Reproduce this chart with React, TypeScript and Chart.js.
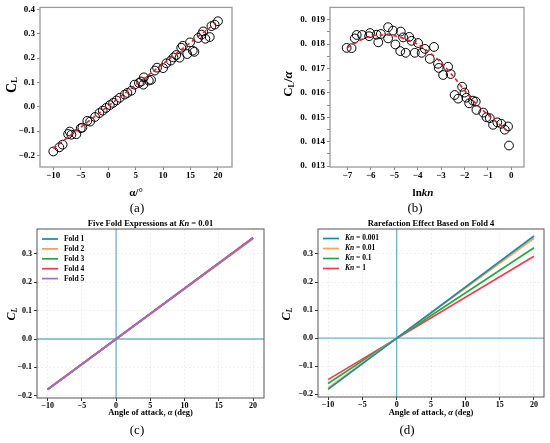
import { useEffect, useRef } from "react";
import { Chart, registerables } from "chart.js";
Chart.register(...registerables);

const SERIF = '"Liberation Serif", "Times New Roman", serif';

// ---- panel (a) ----
const aAlpha = [-10, -8.9, -8.3, -7.3, -7.0, -6.7, -5.8, -5.0, -4.7, -3.8, -3.3, -2.4, -1.6, -1.0, -0.4, 0.3, 0.9, 1.5, 2.1, 3.0, 3.5, 4.2, 4.8, 5.6, 6.0, 6.4, 6.5, 7.4, 7.8, 8.5, 8.9, 10.0, 10.6, 11.4, 11.9, 12.4, 13.0, 13.3, 13.6, 14.4, 14.9, 15.4, 15.7, 16.4, 17.0, 17.3, 17.7, 18.5, 18.8, 19.4, 20.0];
const aCL = [-0.184, -0.167, -0.156, -0.112, -0.102, -0.115, -0.113, -0.088, -0.086, -0.058, -0.061, -0.042, -0.026, -0.016, -0.005, 0.007, 0.016, 0.026, 0.037, 0.05, 0.057, 0.066, 0.091, 0.098, 0.104, 0.091, 0.121, 0.108, 0.111, 0.149, 0.161, 0.159, 0.179, 0.19, 0.203, 0.213, 0.202, 0.243, 0.251, 0.217, 0.265, 0.231, 0.226, 0.283, 0.297, 0.31, 0.28, 0.287, 0.332, 0.338, 0.352];
const aFitAlpha = [-10, 19.6];
const aFitCL = [-0.172, 0.345];
const aXTicks = [-10, -5, 0, 5, 10, 15, 20];
const aYTicks = [-0.2, -0.1, 0, 0.1, 0.2, 0.3, 0.4];

// ---- panel (b) ----
const bLnKn = [-7.03, -6.82, -6.68, -6.6, -6.37, -6.07, -6.03, -5.75, -5.68, -5.57, -5.26, -5.26, -5.05, -4.95, -4.74, -4.72, -4.62, -4.51, -4.36, -4.26, -4.12, -3.98, -3.83, -3.69, -3.48, -3.3, -3.13, -3.1, -2.91, -2.7, -2.59, -2.42, -2.27, -2.1, -2.0, -1.92, -1.8, -1.64, -1.52, -1.49, -1.2, -1.06, -0.92, -0.78, -0.6, -0.43, -0.28, -0.14, -0.1];
const bRatio = [0.01784, 0.01783, 0.01823, 0.01837, 0.01837, 0.01832, 0.01845, 0.01838, 0.01807, 0.01841, 0.01869, 0.01823, 0.01855, 0.01798, 0.01771, 0.01851, 0.01827, 0.01764, 0.01829, 0.01813, 0.01764, 0.01804, 0.01764, 0.0178, 0.01739, 0.01788, 0.01719, 0.01702, 0.01673, 0.01707, 0.01677, 0.01591, 0.01576, 0.01625, 0.01601, 0.0158, 0.01557, 0.01568, 0.01564, 0.0153, 0.01519, 0.015, 0.01496, 0.01469, 0.01479, 0.01473, 0.01449, 0.01462, 0.01384];
const bFitLnKn = [-7, -6.5, -6, -5.5, -5, -4.5, -4, -3.5, -3, -2.5, -2, -1.5, -1, -0.5, -0.2];
const bFitRatio = [0.01785, 0.01813, 0.01832, 0.01837, 0.01834, 0.01819, 0.01799, 0.01766, 0.01725, 0.0167, 0.0161, 0.01555, 0.0151, 0.0147, 0.01447];
const bXTicks = [-7, -6, -5, -4, -3, -2, -1, 0];
const bYTicks = [0.013, 0.0135, 0.014, 0.0145, 0.015, 0.0155, 0.016, 0.0165, 0.017, 0.0175, 0.018, 0.0185, 0.019];
const bYLabelled = [0.013, 0.014, 0.015, 0.016, 0.017, 0.018, 0.019];

// ---- panel (c) ----
const foldLabels = ["Fold 1", "Fold 2", "Fold 3", "Fold 4", "Fold 5"];
const foldAlpha = [-10, 20];
const fold1 = [-0.178, 0.357];
const fold2 = [-0.177, 0.353];
const fold3 = [-0.178, 0.356];
const fold4 = [-0.178, 0.357];
const fold5 = [-0.178, 0.356];
const foldColors = ["#1f82a8", "#ff9a4c", "#25a844", "#f03a4e", "#a56cc6"];

// ---- panel (d) ----
const knLabels = ["0.001", "0.01", "0.1", "1"];
const knAlpha = [-10, 20];
const kn0001 = [-0.183, 0.364];
const kn001 = [-0.178, 0.356];
const kn01 = [-0.162, 0.322];
const kn1 = [-0.148, 0.292];
const knColors = ["#1f8aa8", "#ffa25a", "#25a844", "#f03a4e"];

const cdXTicks = [-10, -5, 0, 5, 10, 15, 20];
const cdYTicks = [-0.2, -0.1, 0, 0.1, 0.2, 0.3];

const W = 550, H = 443, YW = 30, XH = 20;

const pts = (xs: number[], ys: number[]) => xs.map((x, i) => ({ x, y: ys[i] }));
const minus = (s: string) => s.replace("-", "\u2212");
const fmtInt = (v: number) => minus(String(Math.round(v)));
const fmt1 = (v: number) => minus((Math.abs(v) < 1e-9 ? 0 : v).toFixed(1));
const fmtB = (v: number) =>
  bYLabelled.some((t) => Math.abs(t - v) < 1e-7) ? "0.\u2002" + String(Math.round(v * 1000)).padStart(3, "0") : "";

type Run = { t: string; f: string; dy?: number };
function drawRich(ctx: CanvasRenderingContext2D, runs: Run[], x: number, y: number, rot = 0, align = "center") {
  ctx.save();
  ctx.translate(x, y);
  ctx.rotate(rot);
  let w = 0;
  runs.forEach((r) => { ctx.font = r.f; w += ctx.measureText(r.t).width; });
  let cx = align === "center" ? -w / 2 : align === "right" ? -w : 0;
  ctx.textBaseline = "middle";
  ctx.textAlign = "left";
  ctx.fillStyle = "#000";
  runs.forEach((r) => { ctx.font = r.f; ctx.fillText(r.t, cx, r.dy || 0); cx += ctx.measureText(r.t).width; });
  ctx.restore();
}
const B = (s: number) => `bold ${s}px ${SERIF}`;
const BI = (s: number) => `italic bold ${s}px ${SERIF}`;

function zeroLines(ctx: CanvasRenderingContext2D, chart: any) {
  const ca = chart.chartArea;
  const x0 = chart.scales.x.getPixelForValue(0);
  const y0 = chart.scales.y.getPixelForValue(0);
  ctx.save();
  ctx.strokeStyle = "#6db3d1";
  ctx.lineWidth = 1.3;
  ctx.beginPath();
  ctx.moveTo(x0, ca.top); ctx.lineTo(x0, ca.bottom);
  ctx.moveTo(ca.left, y0); ctx.lineTo(ca.right, y0);
  ctx.stroke();
  ctx.restore();
}

function legend(ctx: CanvasRenderingContext2D, x: number, y0: number, dy: number, items: { c: string; runs: Run[] }[]) {
  items.forEach((it, i) => {
    const y = y0 + i * dy;
    ctx.save();
    ctx.strokeStyle = it.c;
    ctx.lineWidth = 1.7;
    ctx.beginPath();
    ctx.moveTo(x, y); ctx.lineTo(x + 16, y);
    ctx.stroke();
    ctx.restore();
    drawRich(ctx, it.runs, x + 22, y, 0, "left");
  });
}

type Spec = {
  area: { l: number; r: number; t: number; b: number };
  xr: [number, number];
  yr: [number, number];
  xTicks: number[];
  yTicks: number[];
  xFmt: (v: number) => string;
  yFmt: (v: number) => string;
  datasets: any[];
  framed: boolean;
  tickFont: number;
  before?: (ctx: CanvasRenderingContext2D, chart: any) => void;
  deco: (ctx: CanvasRenderingContext2D, chart: any) => void;
};

function buildConfig(s: Spec): any {
  const scale = (isX: boolean) => ({
    type: "linear",
    min: isX ? s.xr[0] : s.yr[0],
    max: isX ? s.xr[1] : s.yr[1],
    afterBuildTicks: (sc: any) => { sc.ticks = (isX ? s.xTicks : s.yTicks).map((v) => ({ value: v })); },
    afterFit: (sc: any) => { if (isX) sc.height = XH; else sc.width = YW; },
    ticks: {
      callback: (v: any) => (isX ? s.xFmt : s.yFmt)(Number(v)),
      font: { family: SERIF, size: s.tickFont, weight: "bold" },
      color: "#000",
      padding: isX ? 0 : 2,
      autoSkip: false,
      maxRotation: 0,
    },
    grid: {
      display: true,
      drawOnChartArea: !s.framed,
      drawTicks: true,
      tickLength: 3,
      color: "rgba(0,0,0,0.10)",
      lineWidth: 0.6,
      tickColor: s.framed ? "#888" : "#333",
      tickWidth: 1,
    },
    border: { display: false, dash: s.framed ? [] : [2, 2] },
  });
  return {
    type: "scatter",
    data: { datasets: s.datasets },
    options: {
      responsive: false,
      animation: false,
      events: [],
      layout: { padding: { left: s.area.l - YW, right: W - s.area.r, top: s.area.t, bottom: H - s.area.b - XH } },
      plugins: { legend: { display: false }, tooltip: { enabled: false } },
      scales: { x: scale(true), y: scale(false) },
    },
    plugins: [
      {
        id: "deco",
        beforeDatasetsDraw(chart: any) { if (s.before) s.before(chart.ctx, chart); },
        afterDraw(chart: any) {
          const ctx = chart.ctx, ca = chart.chartArea;
          ctx.save();
          ctx.strokeStyle = s.framed ? "#9a9a9a" : "#555";
          ctx.lineWidth = s.framed ? 1.3 : 1;
          ctx.strokeRect(ca.left, ca.top, ca.right - ca.left, ca.bottom - ca.top);
          ctx.restore();
          s.deco(ctx, chart);
        },
      },
    ],
  };
}

const circles = (data: any[]) => ({
  data, showLine: false, pointStyle: "circle", pointRadius: 4.4, borderColor: "#000",
  backgroundColor: "rgba(0,0,0,0)", borderWidth: 1, order: 2,
});
const redFit = (data: any[]) => ({
  data, showLine: true, pointRadius: 0, borderColor: "#e8202a", borderWidth: 1.6,
  borderDash: [4, 3], tension: 0.3, order: 1,
});
const lineDs = (data: any[], color: string, order: number) => ({
  data, showLine: true, pointRadius: 0, borderColor: color, borderWidth: 1.7, tension: 0, order,
});

const specs: Spec[] = [
  {
    area: { l: 40, r: 232, t: 5, b: 167 },
    xr: [-12.42, 22.55], yr: [-0.248, 0.409],
    xTicks: aXTicks, yTicks: aYTicks, xFmt: fmtInt, yFmt: fmt1,
    datasets: [redFit(pts(aFitAlpha, aFitCL)), circles(pts(aAlpha, aCL))],
    framed: true, tickFont: 9,
    deco: (ctx) => {
      drawRich(ctx, [{ t: "C", f: B(14) }, { t: "L", f: B(9), dy: 3 }], 12, 85, -Math.PI / 2);
      drawRich(ctx, [{ t: "α/°", f: B(11) }], 136, 193);
      drawRich(ctx, [{ t: "(a)", f: `13px ${SERIF}` }], 137, 209);
    },
  },
  {
    area: { l: 330, r: 524, t: 7, b: 167 },
    xr: [-7.74, 0.54], yr: [0.01296, 0.0195],
    xTicks: bXTicks, yTicks: bYTicks, xFmt: fmtInt, yFmt: fmtB,
    datasets: [redFit(pts(bFitLnKn, bFitRatio)), circles(pts(bLnKn, bRatio))],
    framed: true, tickFont: 9,
    deco: (ctx) => {
      drawRich(ctx, [{ t: "C", f: B(13) }, { t: "L", f: B(8), dy: 3 }, { t: "/", f: B(13) }, { t: "α", f: BI(13) }], 289, 84, -Math.PI / 2);
      drawRich(ctx, [{ t: "ln", f: B(11) }, { t: "kn", f: BI(11) }], 423, 193);
      drawRich(ctx, [{ t: "(b)", f: `13px ${SERIF}` }], 415, 209);
    },
  },
  {
    area: { l: 37, r: 264, t: 229, b: 398 },
    xr: [-11.55, 21.6], yr: [-0.208, 0.388],
    xTicks: cdXTicks, yTicks: cdYTicks, xFmt: fmtInt, yFmt: fmt1,
    datasets: [
      lineDs(pts(foldAlpha, fold1), foldColors[0], 5),
      lineDs(pts(foldAlpha, fold2), foldColors[1], 4),
      lineDs(pts(foldAlpha, fold3), foldColors[2], 3),
      lineDs(pts(foldAlpha, fold4), foldColors[3], 2),
      lineDs(pts(foldAlpha, fold5), foldColors[4], 1),
    ],
    framed: false, tickFont: 8,
    before: zeroLines,
    deco: (ctx) => {
      drawRich(ctx, [{ t: "Five Fold Expressions at ", f: B(8.5) }, { t: "Kn", f: BI(8.5) }, { t: " = 0.01", f: B(8.5) }], 150.5, 224);
      legend(ctx, 42, 239, 9.9, foldLabels.map((l, i) => ({ c: foldColors[i], runs: [{ t: l, f: B(7.5) }] })));
      drawRich(ctx, [{ t: "C", f: BI(12) }, { t: "L", f: BI(8), dy: 3 }], 12, 314, -Math.PI / 2);
      drawRich(ctx, [{ t: "Angle of attack, ", f: B(8.5) }, { t: "α", f: BI(8.5) }, { t: " (deg)", f: B(8.5) }], 150.5, 413);
      drawRich(ctx, [{ t: "(c)", f: `13px ${SERIF}` }], 137, 431);
    },
  },
  {
    area: { l: 318, r: 544, t: 229, b: 397 },
    xr: [-11.46, 21.46], yr: [-0.21, 0.389],
    xTicks: cdXTicks, yTicks: cdYTicks, xFmt: fmtInt, yFmt: fmt1,
    datasets: [
      lineDs(pts(knAlpha, kn0001), knColors[0], 1),
      lineDs(pts(knAlpha, kn001), knColors[1], 2),
      lineDs(pts(knAlpha, kn01), knColors[2], 3),
      lineDs(pts(knAlpha, kn1), knColors[3], 4),
    ],
    framed: false, tickFont: 8,
    before: zeroLines,
    deco: (ctx) => {
      drawRich(ctx, [{ t: "Rarefaction Effect Based on Fold 4", f: B(8.5) }], 431, 224);
      legend(ctx, 323, 238.5, 10, knLabels.map((l, i) => ({ c: knColors[i], runs: [{ t: "Kn", f: BI(7.5) }, { t: " = " + l, f: B(7.5) }] })));
      drawRich(ctx, [{ t: "C", f: BI(12) }, { t: "L", f: BI(8), dy: 3 }], 287, 314, -Math.PI / 2);
      drawRich(ctx, [{ t: "Angle of attack, ", f: B(8.5) }, { t: "α", f: BI(8.5) }, { t: " (deg)", f: B(8.5) }], 431, 413);
      drawRich(ctx, [{ t: "(d)", f: `13px ${SERIF}` }], 407, 431);
    },
  },
];

export default function App() {
  const r0 = useRef<HTMLCanvasElement>(null);
  const r1 = useRef<HTMLCanvasElement>(null);
  const r2 = useRef<HTMLCanvasElement>(null);
  const r3 = useRef<HTMLCanvasElement>(null);
  const refs = [r0, r1, r2, r3];
  useEffect(() => {
    const charts = specs.map((s, i) => new Chart(refs[i].current as HTMLCanvasElement, buildConfig(s)));
    return () => charts.forEach((c) => c.destroy());
  }, []);
  return (
    <div style={{ position: "absolute", left: 0, top: 0, width: W, height: H, background: "#fff", overflow: "hidden" }}>
      {refs.map((r, i) => (
        <canvas key={i} ref={r} width={W} height={H} style={{ position: "absolute", left: 0, top: 0, width: W, height: H }} />
      ))}
    </div>
  );
}
